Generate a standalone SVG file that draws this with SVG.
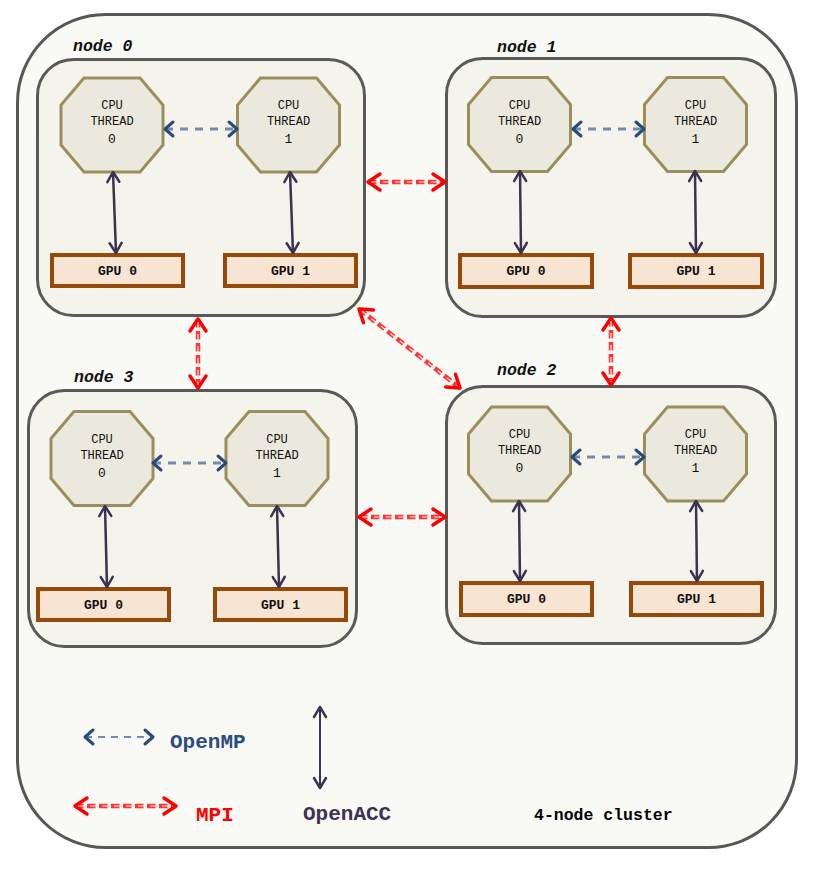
<svg xmlns="http://www.w3.org/2000/svg" xmlns:xlink="http://www.w3.org/1999/xlink" width="825" height="882" viewBox="0 0 825 882">
<style>
.cluster{fill:#f9f9f5;stroke:#575757;stroke-width:3}
.node{fill:#f4f3ec;stroke:#595959;stroke-width:3}
.cpu{fill:#ebe9dd;stroke:#9a8f5c;stroke-width:3}
.gpu{fill:#f7e4d3;stroke:#964a0a;stroke-width:4}
.t{font-family:"Liberation Mono","Courier New",monospace;fill:#111}
.cput{font-size:12px;text-anchor:middle}
.cpun{font-size:13px;text-anchor:middle}
.gput{font-size:13px;font-weight:bold;text-anchor:middle}
.nl{font-size:16.5px;font-weight:bold;font-style:italic}
.acc{fill:none;stroke:#3c3150;stroke-width:2.5;marker-start:url(#mAcc);marker-end:url(#mAcc)}
.omp{fill:none;stroke:#7a89aa;stroke-width:3;stroke-dasharray:8 7;marker-start:url(#mOmp);marker-end:url(#mOmp)}
.mpi{fill:none;stroke:#ff3535;stroke-width:4.5;stroke-dasharray:8.5 3.5;marker-start:url(#mMpi);marker-end:url(#mMpi)}
.mpiw{fill:none;stroke:#fde8e8;stroke-width:1.2;stroke-dasharray:8.5 3.5}
.leg{font-size:21px;font-weight:bold}
</style>
<defs>
<polygon id="oct" class="cpu" points="-28,-47 28,-47 51,-20 51,20 28,47 -28,47 -51,20 -51,-20"/>
<marker id="mAcc" markerUnits="userSpaceOnUse" markerWidth="24" markerHeight="24" viewBox="-12 -12 24 24" refX="0" refY="0" orient="auto-start-reverse">
<path d="M-10,-6 L0,0 L-10,6" fill="none" stroke="#3c3150" stroke-width="2.5" stroke-linecap="round" stroke-linejoin="round"/>
</marker>
<marker id="mOmp" markerUnits="userSpaceOnUse" markerWidth="24" markerHeight="24" viewBox="-12 -12 24 24" refX="0" refY="0" orient="auto-start-reverse">
<path d="M-8,-7 L0,0 L-8,7" fill="none" stroke="#2b4a7c" stroke-width="3" stroke-linecap="round" stroke-linejoin="round"/>
</marker>
<marker id="mMpi" markerUnits="userSpaceOnUse" markerWidth="30" markerHeight="30" viewBox="-15 -15 30 30" refX="0" refY="0" orient="auto-start-reverse">
<path d="M-12,-8 L0,0 L-12,8" fill="none" stroke="#ff0000" stroke-width="3.5" stroke-linecap="round" stroke-linejoin="round"/>
</marker>
</defs>

<g id="cluster">
<rect class="cluster" x="17.5" y="14.5" width="779" height="833" rx="88" ry="88"/>
<text class="t" x="534" y="820" font-size="16.5" font-weight="bold" style="fill:#000">4-node cluster</text>
</g>

<g id="node0">
<rect class="node" x="37.5" y="59.5" width="327" height="256" rx="36" ry="36"/>
<text class="t nl" x="73" y="51">node 0</text>
<g id="n0cpu0"><use xlink:href="#oct" x="112" y="125"/>
<text class="t cput" x="112" y="109">CPU</text><text class="t cput" x="112" y="125">THREAD</text><text class="t cpun" x="112" y="143">0</text></g>
<g id="n0cpu1"><use xlink:href="#oct" x="288.5" y="125"/>
<text class="t cput" x="288.5" y="109">CPU</text><text class="t cput" x="288.5" y="125">THREAD</text><text class="t cpun" x="288.5" y="143">1</text></g>
<g id="n0gpu0"><rect class="gpu" x="52" y="255" width="131" height="31"/><text class="t gput" x="117.5" y="275">GPU 0</text></g>
<g id="n0gpu1"><rect class="gpu" x="225" y="255" width="131" height="31"/><text class="t gput" x="290.5" y="275">GPU 1</text></g>
</g>

<g id="node1">
<rect class="node" x="446.5" y="58.5" width="329" height="258" rx="36" ry="36"/>
<text class="t nl" x="497" y="52">node 1</text>
<g id="n1cpu0"><use xlink:href="#oct" x="519.5" y="124.5"/>
<text class="t cput" x="519.5" y="108.5">CPU</text><text class="t cput" x="519.5" y="124.5">THREAD</text><text class="t cpun" x="519.5" y="142.5">0</text></g>
<g id="n1cpu1"><use xlink:href="#oct" x="695.5" y="124.5"/>
<text class="t cput" x="695.5" y="108.5">CPU</text><text class="t cput" x="695.5" y="124.5">THREAD</text><text class="t cpun" x="695.5" y="142.5">1</text></g>
<g id="n1gpu0"><rect class="gpu" x="460" y="255" width="132" height="32"/><text class="t gput" x="526" y="275">GPU 0</text></g>
<g id="n1gpu1"><rect class="gpu" x="630" y="255" width="132" height="32"/><text class="t gput" x="696" y="275">GPU 1</text></g>
</g>

<g id="node3">
<rect class="node" x="28.5" y="390.5" width="328" height="256" rx="36" ry="36"/>
<text class="t nl" x="74" y="382">node 3</text>
<g id="n3cpu0"><use xlink:href="#oct" x="102" y="458.5"/>
<text class="t cput" x="102" y="442.5">CPU</text><text class="t cput" x="102" y="458.5">THREAD</text><text class="t cpun" x="102" y="476.5">0</text></g>
<g id="n3cpu1"><use xlink:href="#oct" x="277" y="458.5"/>
<text class="t cput" x="277" y="442.5">CPU</text><text class="t cput" x="277" y="458.5">THREAD</text><text class="t cpun" x="277" y="476.5">1</text></g>
<g id="n3gpu0"><rect class="gpu" x="38" y="589" width="131" height="31"/><text class="t gput" x="103.5" y="609">GPU 0</text></g>
<g id="n3gpu1"><rect class="gpu" x="215" y="589" width="131" height="31"/><text class="t gput" x="280.5" y="609">GPU 1</text></g>
</g>

<g id="node2">
<rect class="node" x="446.5" y="386.5" width="329" height="257" rx="36" ry="36"/>
<text class="t nl" x="497" y="375">node 2</text>
<g id="n2cpu0"><use xlink:href="#oct" x="519.5" y="454"/>
<text class="t cput" x="519.5" y="438">CPU</text><text class="t cput" x="519.5" y="454">THREAD</text><text class="t cpun" x="519.5" y="472">0</text></g>
<g id="n2cpu1"><use xlink:href="#oct" x="695.5" y="454"/>
<text class="t cput" x="695.5" y="438">CPU</text><text class="t cput" x="695.5" y="454">THREAD</text><text class="t cpun" x="695.5" y="472">1</text></g>
<g id="n2gpu0"><rect class="gpu" x="461" y="583" width="131" height="32"/><text class="t gput" x="526.5" y="603">GPU 0</text></g>
<g id="n2gpu1"><rect class="gpu" x="631" y="583" width="131" height="32"/><text class="t gput" x="696.5" y="603">GPU 1</text></g>
</g>

<g id="connectors">
<line class="acc" x1="113" y1="172" x2="116" y2="253"/>
<line class="acc" x1="290" y1="172" x2="293" y2="253"/>
<line class="acc" x1="520" y1="171" x2="521" y2="253"/>
<line class="acc" x1="695" y1="171" x2="696" y2="253"/>
<line class="acc" x1="105" y1="506" x2="107" y2="587"/>
<line class="acc" x1="277" y1="506" x2="279" y2="587"/>
<line class="acc" x1="519" y1="501" x2="520" y2="581"/>
<line class="acc" x1="696" y1="501" x2="697" y2="581"/>
<line class="omp" x1="165" y1="129" x2="237" y2="129"/>
<line class="omp" x1="573" y1="129" x2="644" y2="129"/>
<line class="omp" x1="153" y1="463" x2="226" y2="463"/>
<line class="omp" x1="572" y1="457" x2="644" y2="457"/>
<line class="mpi" x1="368" y1="182" x2="445" y2="182"/>
<line class="mpiw" x1="371" y1="182" x2="442" y2="182"/>
<line class="mpi" x1="359" y1="309" x2="460" y2="388"/>
<line class="mpiw" x1="362" y1="311.3" x2="457" y2="385.7"/>
<line class="mpi" x1="198" y1="319" x2="198" y2="388"/>
<line class="mpiw" x1="198" y1="322" x2="198" y2="385"/>
<line class="mpi" x1="611" y1="318" x2="611" y2="385"/>
<line class="mpiw" x1="611" y1="321" x2="611" y2="382"/>
<line class="mpi" x1="359" y1="517" x2="445" y2="517"/>
<line class="mpiw" x1="362" y1="517" x2="442" y2="517"/>
</g>

<g id="legend">
<line x1="85" y1="737" x2="153" y2="737" fill="none" stroke="#7a89aa" stroke-width="2" stroke-dasharray="7 6" marker-start="url(#mOmp)" marker-end="url(#mOmp)"/>
<text class="t leg" x="170" y="748" style="fill:#2b4c80">OpenMP</text>
<line class="mpi" x1="75" y1="806" x2="176" y2="806"/>
<line class="mpiw" x1="78" y1="806" x2="173" y2="806"/>
<text class="t leg" x="196" y="821" style="fill:#ff0000">MPI</text>
<line x1="320" y1="707" x2="320" y2="788" fill="none" stroke="#3c3150" stroke-width="2" marker-start="url(#mAcc)" marker-end="url(#mAcc)"/>
<text class="t leg" x="303" y="820" style="fill:#3c3150">OpenACC</text>
</g>
</svg>
